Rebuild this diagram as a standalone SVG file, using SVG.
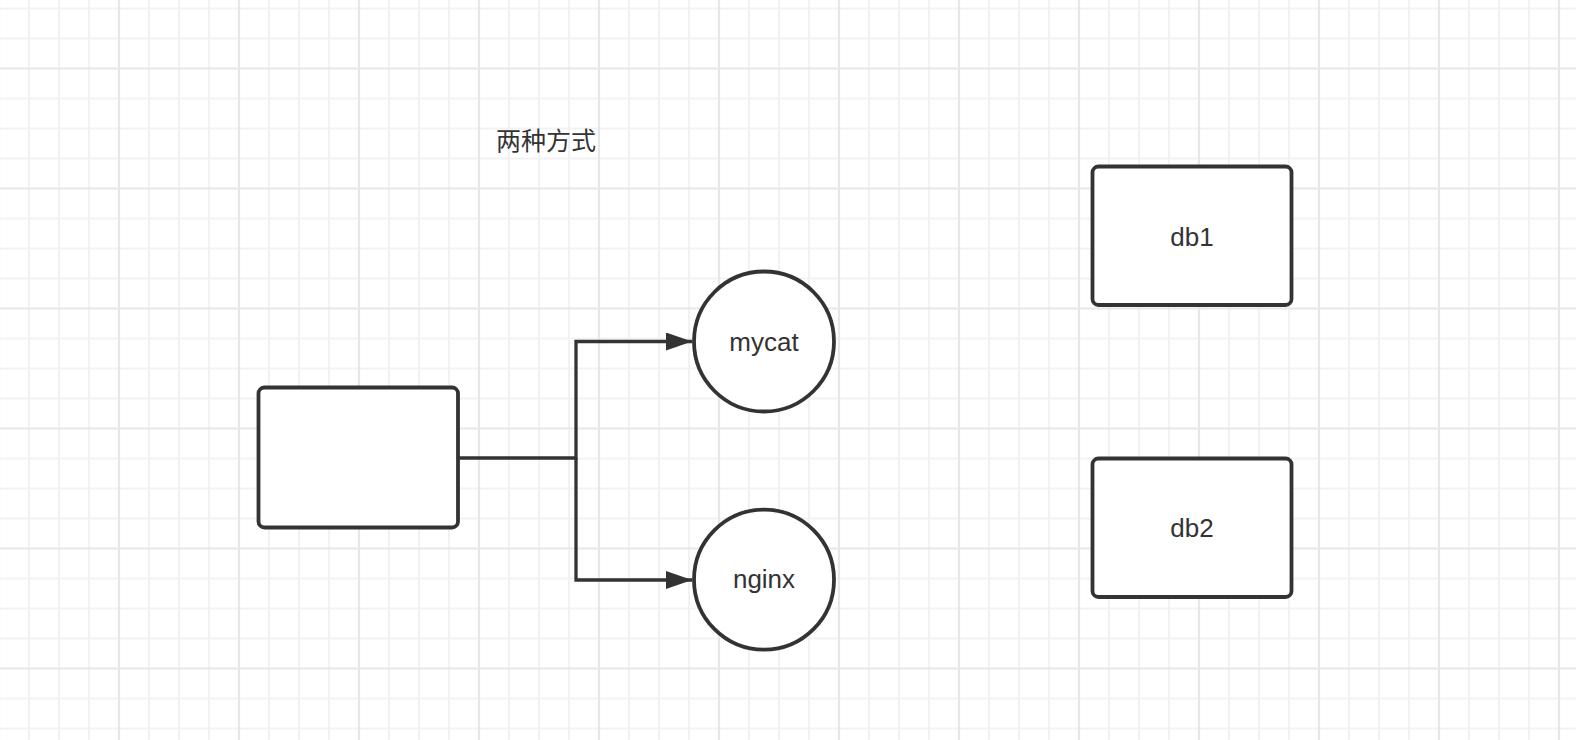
<svg xmlns="http://www.w3.org/2000/svg" width="1576" height="740" viewBox="0 0 1576 740">
  <style>
    .node { fill: #ffffff; stroke: #333333; stroke-width: 3.8; }
    .label { font-family: "Liberation Sans", Arial, "Noto Sans CJK SC", sans-serif; font-size: 26px; fill: #333333; text-anchor: middle; }
    .title { font-family: "Noto Sans CJK SC", "Liberation Sans", sans-serif; font-size: 25px; fill: #333333; }
    .conn { fill: none; stroke: #333333; stroke-width: 3.3; stroke-linejoin: miter; }
  </style>
  <defs>
    <pattern id="grid" x="104" y="53.5" width="120" height="120" patternUnits="userSpaceOnUse">
      <g stroke="#f2f2f2" stroke-width="2">
        <line x1="45" y1="0" x2="45" y2="120"/>
        <line x1="75" y1="0" x2="75" y2="120"/>
        <line x1="105" y1="0" x2="105" y2="120"/>
        <line x1="0" y1="45" x2="120" y2="45"/>
        <line x1="0" y1="75" x2="120" y2="75"/>
        <line x1="0" y1="105" x2="120" y2="105"/>
      </g>
      <g stroke="#e7e7e7" stroke-width="2.2">
        <line x1="15" y1="0" x2="15" y2="120"/>
        <line x1="0" y1="15" x2="120" y2="15"/>
      </g>
    </pattern>
    <marker id="arrow" markerUnits="userSpaceOnUse" markerWidth="28" markerHeight="19" refX="26" refY="9" orient="auto">
      <path d="M0,0 L26,9 L0,18 Z" fill="#333333"/>
    </marker>
  </defs>

  <rect x="0" y="0" width="1576" height="740" fill="#ffffff"/>
  <rect x="0" y="0" width="1576" height="740" fill="url(#grid)"/>

  <g id="title">
    <text class="title" x="496" y="150">两种方式</text>
  </g>

  <g id="connectors">
    <path class="conn" d="M457.5,458 H576 V341.5 H692" marker-end="url(#arrow)"/>
    <path class="conn" d="M576,458 V580 H692" marker-end="url(#arrow)"/>
  </g>

  <g id="client">
    <rect class="node" x="258.5" y="387.5" width="199.5" height="140" rx="6" ry="6"/>
  </g>

  <g id="mycat">
    <circle class="node" cx="764" cy="341.5" r="70"/>
    <text class="label" x="764" y="350.5">mycat</text>
  </g>

  <g id="nginx">
    <circle class="node" cx="764" cy="579.7" r="70"/>
    <text class="label" x="764" y="588.3">nginx</text>
  </g>

  <g id="db1">
    <rect class="node" x="1092.5" y="166.5" width="199" height="138.5" rx="6" ry="6"/>
    <text class="label" x="1192" y="245.5">db1</text>
  </g>

  <g id="db2">
    <rect class="node" x="1092.5" y="458.5" width="199" height="138.5" rx="6" ry="6"/>
    <text class="label" x="1192" y="536.7">db2</text>
  </g>
</svg>
